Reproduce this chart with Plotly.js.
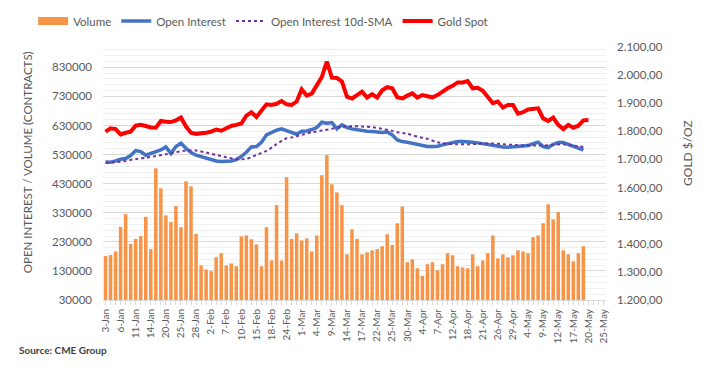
<!DOCTYPE html>
<html>
<head>
<meta charset="utf-8">
<script src="https://cdn.plot.ly/plotly-3.0.1.min.js"></script>
<style>html,body{margin:0;padding:0;background:#fff;}#chart{width:705px;height:375px;}</style>
</head>
<body>
<div id="chart"></div>
<script>
const dates = ['3-Jan','4-Jan','5-Jan','6-Jan','7-Jan','10-Jan','11-Jan','12-Jan','13-Jan','14-Jan','18-Jan','19-Jan','20-Jan','21-Jan','24-Jan','25-Jan','26-Jan','27-Jan','28-Jan','31-Jan',
'1-Feb','2-Feb','3-Feb','4-Feb','7-Feb','8-Feb','9-Feb','10-Feb','11-Feb','14-Feb','15-Feb','16-Feb','17-Feb','18-Feb','22-Feb','23-Feb','24-Feb','25-Feb','28-Feb',
'1-Mar','2-Mar','3-Mar','4-Mar','7-Mar','8-Mar','9-Mar','10-Mar','11-Mar','14-Mar','15-Mar','16-Mar','17-Mar','18-Mar','21-Mar','22-Mar','23-Mar','24-Mar','25-Mar','28-Mar','29-Mar','30-Mar','31-Mar',
'1-Apr','4-Apr','5-Apr','6-Apr','7-Apr','8-Apr','11-Apr','12-Apr','13-Apr','14-Apr','18-Apr','19-Apr','20-Apr','21-Apr','22-Apr','25-Apr','26-Apr','27-Apr','28-Apr','29-Apr',
'2-May','3-May','4-May','5-May','6-May','9-May','10-May','11-May','12-May','13-May','16-May','17-May','18-May','19-May','20-May','23-May','24-May','25-May'];

const volume = [181000,185000,197000,281000,325000,223000,240000,250000,316000,205000,
483000,414000,321000,298000,353000,280000,438000,421000,257000,149000,
135000,129000,177000,191000,149000,156000,146000,249000,252000,239000,
221000,146000,280000,166000,356000,166000,452000,240000,259000,235000,
242000,197000,252000,459000,528000,428000,400000,356000,187000,273000,
240000,187000,194000,201000,205000,215000,256000,219000,294000,352000,
160000,170000,139000,113000,153000,160000,132000,153000,191000,184000,
146000,142000,139000,187000,146000,166000,191000,252000,173000,187000,
177000,184000,201000,197000,191000,246000,252000,294000,359000,307000,
332000,201000,187000,163000,191000,215000];

const openInterest = [504900,503700,508300,514000,516300,526600,543900,540500,527800,533500,
538100,546200,556500,533500,557600,569100,551900,537000,527800,523200,
516300,511700,508300,506000,506000,508300,512900,523200,538100,556500,
557600,572500,597800,606900,613800,618400,611500,606000,600000,610400,
611500,616100,623000,641400,637900,640200,618400,632200,623000,618400,
615000,612700,610400,609200,606900,605800,608000,597800,580600,574800,
572500,569100,563400,560000,557600,557600,558800,563400,568000,572500,
574800,574800,574800,572500,570300,567000,565700,561100,557600,556500,
555300,556500,558800,560000,561100,568000,572500,557600,554200,565700,
571400,571400,565700,560000,551900,545000];

// 10d-SMA read at the dates where it was legible (null elsewhere)
const oiSma = [501400,null,503700,null,508300,null,515200,null,518600,null,
525500,null,531200,null,538100,null,543900,null,543900,null,
537000,null,529000,null,521000,null,514000,null,515200,null,
529000,null,542700,null,565700,null,586300,589000,null,597800,
null,606900,null,612700,null,618400,null,626400,null,627600,
null,626400,null,624100,null,618400,null,611500,606900,null,
601200,null,592000,null,584000,null,572500,null,566800,null,
565700,null,565700,null,566800,568000,null,568000,null,565700,
null,563400,null,561100,null,561100,null,561100,null,563400,
null,565700,null,561100,null,556500];

const goldSpot = [1799,1811,1808,1789,1795,1799,1820,1823,1819,1814,
1813,1837,1834,1833,1839,1849,1817,1795,1791,1792,
1795,1799,1806,1802,1812,1819,1823,1828,1856,1868,
1851,1876,1896,1894,1898,1908,1896,1894,1906,1949,
1927,1934,1962,1993,2048,1991,1990,1977,1923,1917,
1929,1941,1920,1932,1920,1946,1957,1953,1921,1917,
1927,1935,1920,1929,1925,1921,1929,1943,1953,1962,
1974,1974,1979,1953,1955,1944,1923,1900,1906,1885,
1894,1894,1863,1868,1878,1879,1882,1846,1837,1849,
1823,1808,1823,1813,1820,1839,1840];

const leftTicks = [30000,130000,230000,330000,430000,530000,630000,730000,830000];
const rightTicks = [1200,1300,1400,1500,1600,1700,1800,1900,2000,2100];
const rightTickText = ['1.200,00','1.300,00','1.400,00','1.500,00','1.600,00','1.700,00','1.800,00','1.900,00','2.000,00','2.100,00'];

const idx = dates.map((d, i) => i);
const labelIdx = idx.filter(i => i % 3 === 0);
const labelText = labelIdx.map(i => dates[i]);

const FONT = 'Lato, "Open Sans", sans-serif';
const GREY = '#595959';

const traces = [
  {type:'bar', name:'Volume', x: idx.slice(0, volume.length), y: volume, marker:{color:'#F79447'}, showlegend:false, yaxis:'y', hoverinfo:'skip'},
  {type:'scatter', mode:'lines', name:'Volume', x:[null], y:[null], line:{color:'#F79447', width:8}, yaxis:'y'},
  {type:'scatter', mode:'lines', name:'Open Interest', x: idx.slice(0, openInterest.length), y: openInterest, line:{color:'#4472C4', width:3.5}, yaxis:'y'},
  {type:'scatter', mode:'lines', name:'Open Interest 10d-SMA', x: idx.slice(0, oiSma.length), y: oiSma, connectgaps:true, line:{color:'#7030A0', width:2, dash:'dot', shape:'spline', smoothing:0.6}, yaxis:'y'},
  {type:'scatter', mode:'lines', name:'Gold Spot', x: idx.slice(0, goldSpot.length), y: goldSpot, line:{color:'#FF0000', width:4}, yaxis:'y2'}
];

const layout = {
  width:705, height:375,
  margin:{l:103, r:99, t:47, b:75, pad:0},
  paper_bgcolor:'#fff', plot_bgcolor:'#fff',
  font:{family:FONT, color:GREY, size:11},
  bargap:0.3,
  showlegend:true,
  legend:{orientation:'h', xref:'container', x:0.047, xanchor:'left', yref:'container', y:0.944, yanchor:'middle', font:{size:11.5, color:GREY}, traceorder:'normal', bgcolor:'rgba(0,0,0,0)'},
  xaxis:{range:[-0.5, 99.5], tickmode:'array', tickvals:labelIdx, ticktext:labelText, tickangle:-90,
    tickfont:{size:10, color:GREY}, ticks:'outside', ticklen:4, tickcolor:'#d9d9d9',
    minor:{ticks:'outside', dtick:1, tick0:0, ticklen:4, tickcolor:'#d9d9d9', showgrid:false},
    showline:true, linecolor:'#d9d9d9', linewidth:1, showgrid:false, zeroline:false, fixedrange:true},
  yaxis:{range:[30000, 900000], tickmode:'array', tickvals:leftTicks, ticktext:leftTicks.map(String),
    tickfont:{size:11.5, color:GREY}, showgrid:true, gridcolor:'#d9d9d9', gridwidth:1,
    minor:{tickmode:'linear', tick0:30000, dtick:20000, showgrid:true, gridcolor:'#f0f0f0', gridwidth:1},
    zeroline:false, showline:false, ticks:'', ticklabelstandoff:10},
  yaxis2:{range:[1200, 2100], overlaying:'y', side:'right', tickmode:'array', tickvals:rightTicks, ticktext:rightTickText,
    tickfont:{size:11.5, color:GREY}, showgrid:false, zeroline:false, showline:false, ticks:'', ticklabelstandoff:10},
  annotations:[
    {text:'OPEN INTEREST / VOLUME (CONTRACTS)', xref:'paper', yref:'paper', x:-0.151, y:0.545, textangle:-90, showarrow:false, font:{size:11.5, color:GREY}, xanchor:'center', yanchor:'middle'},
    {text:'GOLD $/OZ', xref:'paper', yref:'paper', x:1.161, y:0.581, textangle:-90, showarrow:false, font:{size:12, color:GREY}, xanchor:'center', yanchor:'middle'},
    {text:'<b>Source: CME Group</b>', xref:'paper', yref:'paper', x:-0.171, y:-0.198, showarrow:false, font:{size:10, color:'#404040'}, xanchor:'left', yanchor:'middle'}
  ]
};

Plotly.newPlot('chart', traces, layout, {staticPlot:true, displayModeBar:false});
</script>
</body>
</html>
